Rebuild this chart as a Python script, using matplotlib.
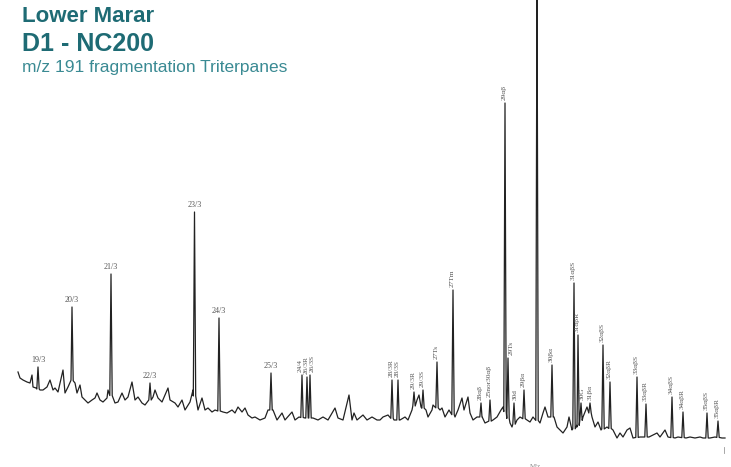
import numpy as np
import matplotlib.pyplot as plt

# m/z 191 trace: x = scan position, y = intensity
noise_x = [18, 20, 23, 27, 30, 32, 33, 36, 40, 43, 47, 50, 53, 55, 58, 63, 65, 68, 71, 75,
           77, 80, 82, 85, 88, 92, 95, 97, 100, 103, 107, 108, 115, 118, 122, 125, 128, 132, 135, 138,
           142, 145, 153, 155, 158, 162, 168, 170, 175, 178, 182, 185, 190, 193, 198, 202, 205, 208, 212, 215,
           223, 227, 232, 235, 238, 242, 245, 248, 252, 255, 260, 265, 268, 273, 277, 282, 285, 292, 295, 299,
           305, 313, 318, 323, 328, 335, 338, 343, 349, 352, 354, 357, 363, 367, 372, 377, 380, 383, 388, 394,
           400, 405, 408, 412, 417, 419, 421, 426, 428, 432, 433, 440, 442, 445, 449, 455, 458, 462, 464, 468,
           470, 473, 477, 482, 485, 493, 497, 501, 503, 510, 512, 517, 520, 527, 530, 533, 540, 543, 545, 548,
           554, 557, 560, 563, 567, 569, 572, 577, 583, 587, 592, 595, 598, 601, 607, 613, 617, 620, 623, 627,
           630, 633, 640, 643, 649, 653, 657, 660, 665, 668, 675, 678, 686, 690, 695, 700, 703, 710, 715, 722,
           725]
noise_y = [73, 67, 65, 63, 62, 70, 58, 57, 55, 55, 58, 65, 55, 57, 53, 75, 52, 58, 65, 62,
           52, 60, 48, 45, 42, 45, 47, 52, 45, 43, 47, 55, 42, 43, 52, 45, 48, 63, 45, 48,
           42, 40, 48, 55, 47, 43, 57, 45, 42, 38, 45, 35, 43, 55, 35, 47, 35, 37, 33, 35,
           33, 32, 35, 32, 38, 33, 37, 30, 27, 28, 25, 27, 35, 35, 25, 32, 25, 33, 25, 28,
           27, 27, 25, 28, 25, 37, 27, 25, 50, 25, 32, 25, 30, 25, 28, 25, 25, 28, 30, 25,
           25, 28, 25, 35, 45, 50, 38, 35, 28, 35, 40, 35, 37, 28, 35, 28, 35, 47, 35, 48,
           32, 25, 28, 28, 22, 25, 28, 35, 38, 22, 18, 25, 28, 25, 23, 28, 22, 32, 38, 28,
           28, 18, 15, 12, 18, 28, 15, 18, 28, 38, 28, 18, 23, 15, 18, 15, 7, 12, 8, 15,
           17, 7, 8, 8, 8, 10, 12, 8, 15, 8, 7, 8, 7, 8, 7, 8, 7, 7, 8, 7,
           7]

# named peaks: position, apex intensity, label
peak_x = [38, 72, 111, 150, 194.5, 219, 271, 302, 307, 310,
          392, 398, 414, 423, 437, 453, 481, 490, 505, 508,
          514, 524, 537, 552, 574, 578, 581, 590, 603, 610,
          637, 646, 672, 683, 707, 718]
peak_y = [78, 138, 171, 62, 233, 127, 72, 70, 68, 70,
          65, 65, 53, 55, 83, 155, 42, 45, 342, 87,
          42, 55, 480, 80, 162, 110, 42, 42, 100, 63,
          68, 41, 48, 33, 32, 24]
peak_names = ["19/3", "20/3", "21/3", "22/3", "23/3", "24/3", "25/3", "24/4", "26/3R", "26/3S",
              "28/3R", "28/3S", "29/3R", "29/3S", "27Ts", "27Tm", "28αβ", "25nor30αβ", "29αβ", "29Ts",
              "30d", "29βα", "", "30βα", "31αβS", "31αβR", "30G", "31βα", "32αβS", "32αβR",
              "33αβS", "33αβR", "34αβS", "34αβR", "35αβS", "35αβR"]
flat_names = ["19/3", "20/3", "21/3", "22/3", "23/3", "24/3", "25/3"]
# small sideways nudges so crowded labels sit as in the scan
label_dx = {"24/4": -1.5, "26/3R": 0, "26/3S": 3, "29Ts": 4, "30d": 2, "30G": 2, "31βα": 1}

# merge the baseline with the peaks
pts = list(zip(noise_x, noise_y))
for px, py in zip(peak_x, peak_y):
    foot = np.interp(px, noise_x, noise_y)
    pts += [(px - 1.2, foot), (px, py), (px + 1.2, foot)]
pts.sort()
tx = [p[0] for p in pts]
ty = [p[1] for p in pts]

fig = plt.figure(figsize=(7.31, 4.67), dpi=100)
ax = fig.add_axes([0, 0, 1, 1])
ax.plot(tx, ty, color='#222222', lw=0.9)
ax.set_xlim(0, 731)
ax.set_ylim(-22, 445)
ax.axis('off')

for px, py, name in zip(peak_x, peak_y, peak_names):
    if not name:
        continue
    if name in flat_names:
        ax.text(px, py + 3, name, ha='center', va='bottom', fontsize=5.8,
                family='Liberation Serif', color='#555555')
    else:
        ax.text(px - 0.5 + label_dx.get(name, 0), py + 3, name, ha='center', va='bottom',
                rotation=90, fontsize=5.3, family='Liberation Serif', color='#555555')

# cut-off axis remnants at the bottom edge
ax.text(535, -21, 'M/z', fontsize=5, family='Liberation Serif', color='#888888',
        ha='center', va='center')
ax.plot([724, 724], [-2, -8], color='#999999', lw=0.6)

fig.text(0.030, 0.953, 'Lower Marar', fontsize=16, fontweight='bold',
         family='Liberation Sans', color='#1e6b74', va='baseline')
fig.text(0.030, 0.891, 'D1 - NC200', fontsize=18, fontweight='bold',
         family='Liberation Sans', color='#1e6b74', va='baseline')
fig.text(0.030, 0.846, 'm/z 191 fragmentation Triterpanes', fontsize=12.5,
         family='Liberation Sans', color='#3a8a93', va='baseline')

fig.savefig('out.png', dpi=100)
